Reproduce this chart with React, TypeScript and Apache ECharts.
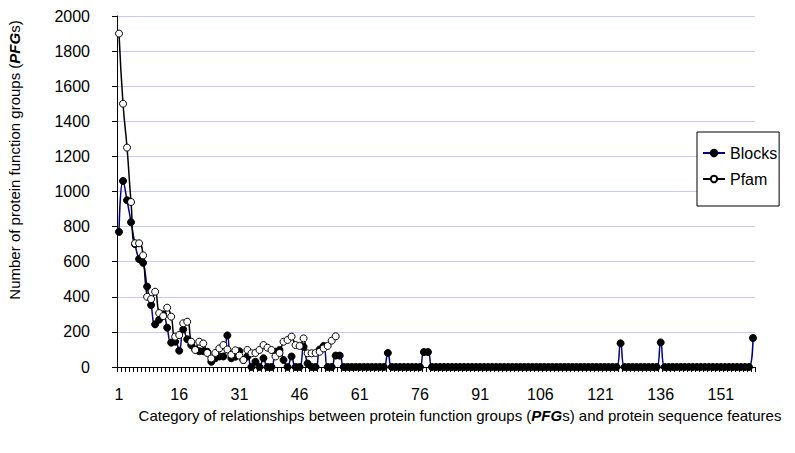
import React, { useEffect, useRef } from "react";
import * as echarts from "echarts";

const categoryCount = 159;
const categories: string[] = Array.from({ length: categoryCount }, (_, i) => String(i + 1));

const blocksValues: number[] = [
  770, 1060, 950, 825, 700, 615, 594, 458, 353, 243,
  270, 300, 224, 139, 144, 93, 214, 158, 125, 100,
  90, 90, 87, 30, 50, 60, 60, 180, 50, 59,
  90, 40, 60, 0, 30, 0, 50, 0, 0, 87,
  97, 40, 0, 60, 0, 0, 115, 20, 0, 0,
  100, 120, 0, 0, 65, 65, 0, 0, 0, 0,
  0, 0, 0, 0, 0, 0, 0, 80, 0, 0,
  0, 0, 0, 0, 0, 0, 85, 85, 0, 0,
  0, 0, 0, 0, 0, 0, 0, 0, 0, 0,
  0, 0, 0, 0, 0, 0, 0, 0, 0, 0,
  0, 0, 0, 0, 0, 0, 0, 0, 0, 0,
  0, 0, 0, 0, 0, 0, 0, 0, 0, 0,
  0, 0, 0, 0, 0, 135, 0, 0, 0, 0,
  0, 0, 0, 0, 0, 140, 0, 0, 0, 0,
  0, 0, 0, 0, 0, 0, 0, 0, 0, 0,
  0, 0, 0, 0, 0, 0, 0, 0, 165,
];

const pfamValues: number[] = [
  1900, 1500, 1250, 940, 705, 705, 636, 400, 387, 429,
  307, 290, 338, 287, 173, 182, 249, 258, 144, 97,
  144, 134, 80, 49, 80, 106, 125, 100, 70, 95,
  65, 40, 97, 78, 80, 97, 125, 110, 97, 60,
  80, 144, 154, 173, 125, 120, 163, 78, 78, 80,
  87, 106, 120, 150, 175,
];

const yTicks = { min: 0, max: 2000, interval: 200 };

const FONT = "'Liberation Sans', Arial, sans-serif";

export default function App() {
  const ref = useRef<HTMLDivElement>(null);
  useEffect(() => {
    if (!ref.current) return;
    const chart = echarts.init(ref.current, undefined, { renderer: "svg" });
    chart.setOption({
      animation: false,
      backgroundColor: "#ffffff",
      grid: { left: 117, right: 40, top: 16, bottom: 86, containLabel: false },
      legend: {
        orient: "vertical",
        left: 697,
        top: 132,
        padding: [13, 2, 19, 5],
        itemGap: 10,
        itemWidth: 22,
        itemHeight: 8,
        borderColor: "#000",
        borderWidth: 1,
        backgroundColor: "#fff",
        textStyle: { fontFamily: FONT, fontSize: 16, color: "#000" },
        data: ["Blocks", "Pfam"],
      },
      xAxis: {
        type: "category",
        data: categories,
        boundaryGap: true,
        axisLine: { show: true, lineStyle: { color: "#000", width: 1 } },
        axisTick: { show: true, interval: 0, length: 5, lineStyle: { color: "#000" } },
        axisLabel: {
          interval: 14,
          margin: 19,
          fontFamily: FONT,
          fontSize: 16,
          color: "#000",
        },
        splitLine: { show: false },
      },
      yAxis: {
        type: "value",
        min: yTicks.min,
        max: yTicks.max,
        interval: yTicks.interval,
        axisLine: { show: true, lineStyle: { color: "#000", width: 1 } },
        axisTick: { show: true, length: 5, lineStyle: { color: "#000" } },
        axisLabel: {
          margin: 27,
          fontFamily: FONT,
          fontSize: 16,
          color: "#000",
          formatter: (v: number) => String(v),
        },
        splitLine: { show: true, lineStyle: { color: "#c8c8ff", width: 1 } },
      },
      graphic: [
        {
          type: "text",
          x: 14,
          y: 160,
          rotation: Math.PI / 2,
          style: {
            text: "{n|Number of protein function groups (}{b|PFG}{n|s)}",
            align: "center",
            verticalAlign: "middle",
            rich: {
              n: { fontFamily: FONT, fontSize: 15, fill: "#000" },
              b: { fontFamily: FONT, fontSize: 15, fontWeight: "bold", fontStyle: "italic", fill: "#000" },
            },
          },
        },
        {
          type: "text",
          x: 460,
          y: 415,
          style: {
            text: "{n|Category of relationships between protein function groups (}{b|PFG}{n|s) and protein sequence features}",
            align: "center",
            verticalAlign: "middle",
            rich: {
              n: { fontFamily: FONT, fontSize: 15, fill: "#000" },
              b: { fontFamily: FONT, fontSize: 15, fontWeight: "bold", fontStyle: "italic", fill: "#000" },
            },
          },
        },
      ],
      series: [
        {
          name: "Blocks",
          type: "line",
          data: blocksValues,
          smooth: true,
          symbol: "circle",
          symbolSize: 7,
          showAllSymbol: true,
          itemStyle: { color: "#000", borderColor: "#000", borderWidth: 1 },
          lineStyle: { color: "#000080", width: 1.5 },
        },
        {
          name: "Pfam",
          type: "line",
          data: pfamValues,
          smooth: true,
          symbol: "circle",
          symbolSize: 7,
          showAllSymbol: true,
          itemStyle: { color: "#fff", borderColor: "#000", borderWidth: 1 },
          lineStyle: { color: "#000", width: 1.5 },
        },
      ],
    });
    return () => chart.dispose();
  }, []);
  return <div ref={ref} style={{ width: 795, height: 453, position: "absolute", left: 0, top: 0 }} />;
}
